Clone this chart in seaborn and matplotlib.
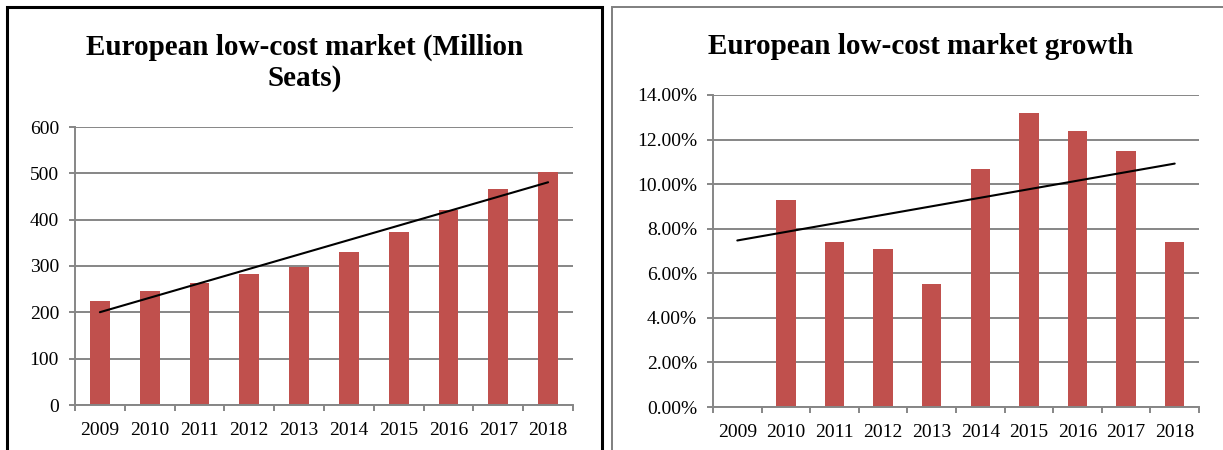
import numpy as np
import pandas as pd
import matplotlib
matplotlib.use("Agg")
import matplotlib.pyplot as plt
from matplotlib.ticker import FuncFormatter, FixedLocator
from matplotlib.patches import Rectangle
import seaborn as sns

# ---------------- data ----------------
years = ["2009", "2010", "2011", "2012", "2013", "2014", "2015", "2016", "2017", "2018"]
seats = [224, 245, 264, 282, 298, 330, 373, 420, 467, 502]          # million seats
growth = [np.nan, 9.3, 7.4, 7.1, 5.5, 10.7, 13.2, 12.4, 11.5, 7.4]   # percent
seat_ticks = [0, 100, 200, 300, 400, 500, 600]
growth_ticks = [0, 2, 4, 6, 8, 10, 12, 14]
title_left = "European low-cost market (Million\nSeats)"
title_right = "European low-cost market growth"

# ---------------- style ----------------
sns.set_style("white")
plt.rcParams["font.family"] = ["Liberation Serif", "DejaVu Serif"]
plt.rcParams["text.color"] = "black"
plt.rcParams["xtick.labelcolor"] = "black"
plt.rcParams["ytick.labelcolor"] = "black"

BAR = "#C0504D"
GRID = "#868686"

W, H = 1223, 450
fig = plt.figure(figsize=(W / 100, H / 100), dpi=100)


def frac_axes(x0, x1, ytop, ybot):
    return fig.add_axes([x0 / W, (H - ybot) / H, (x1 - x0) / W, (ybot - ytop) / H])


ax1 = frac_axes(75, 573, 127, 405)
ax2 = frac_axes(713, 1199, 95, 407)

df1 = pd.DataFrame({"year": years, "value": seats})
df2 = pd.DataFrame({"year": years, "value": growth})

for ax, df, ticks in ((ax1, df1, seat_ticks), (ax2, df2, growth_ticks)):
    sns.barplot(data=df, x="year", y="value", order=years, ax=ax, color=BAR,
                saturation=1, width=0.4, errorbar=None, linewidth=0)
    # linear trend line fitted on available values
    xs = np.arange(len(years))
    vals = df["value"].to_numpy(dtype=float)
    ok = ~np.isnan(vals)
    coef = np.polyfit(xs[ok], vals[ok], 1)
    ax.plot(xs, np.polyval(coef, xs), color="black", lw=1.5, zorder=5)

    ax.set_xlim(-0.5, len(years) - 0.5)
    ax.set_ylim(ticks[0], ticks[-1])
    ax.yaxis.set_major_locator(FixedLocator(ticks))
    ax.set_axisbelow(True)
    ax.grid(axis="y", color=GRID, lw=1.4)
    ax.grid(axis="x", visible=False)
    ax.set_xlabel("")
    ax.set_ylabel("")
    for s in ("top", "right"):
        ax.spines[s].set_visible(False)
    for s in ("left", "bottom"):
        ax.spines[s].set_color(GRID)
        ax.spines[s].set_linewidth(1.4)
    ax.xaxis.set_minor_locator(FixedLocator(np.arange(-0.5, len(years), 1.0)))
    ax.tick_params(axis="x", which="both", bottom=True)
    ax.tick_params(axis="y", which="major", left=True)
    ax.tick_params(axis="x", which="major", length=0, pad=12, labelsize=14, labelcolor="black")
    ax.tick_params(axis="x", which="minor", length=4, width=1.4, color=GRID, direction="out")
    ax.tick_params(axis="y", which="major", length=4.5, width=1.4, color=GRID,
                   direction="out", pad=7, labelsize=14, labelcolor="black")

ax2.yaxis.set_major_formatter(FuncFormatter(lambda v, p: f"{v:.2f}%"))

# titles centered on the chart panels
fig.text(305 / W, 1 - 63 / H, title_left, ha="center", va="center", fontsize=21,
         fontweight="bold", linespacing=1.2, color="black")
fig.text(921 / W, 1 - 46 / H, title_right, ha="center", va="center", fontsize=21,
         fontweight="bold", color="black")

# panel borders
fig.patches.append(Rectangle((7 / W, -0.1), (602 - 7) / W, (H - 7) / H + 0.1,
                             transform=fig.transFigure, fill=False, ec="black", lw=2.2))
fig.patches.append(Rectangle((612 / W, -0.1), 0.6, (H - 7) / H + 0.1,
                             transform=fig.transFigure, fill=False, ec="#7f7f7f", lw=1.4))

fig.savefig("out.png", dpi=100)
